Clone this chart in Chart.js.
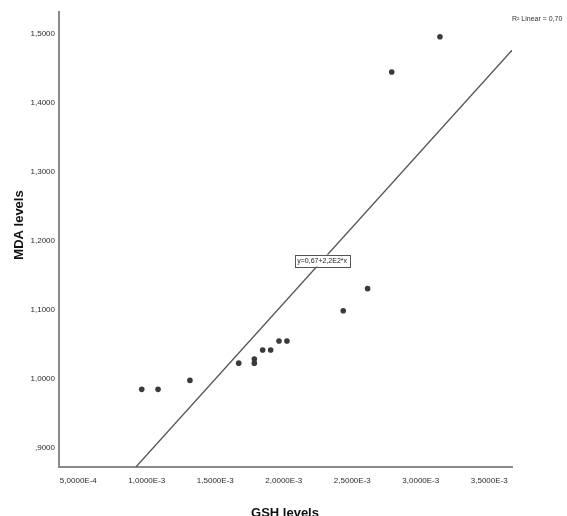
<!DOCTYPE html>
<html>
<head>
<meta charset="utf-8">
<script src="https://cdn.jsdelivr.net/npm/chart.js@4/dist/chart.umd.min.js"></script>
<style>
  html, body { margin: 0; padding: 0; background: #ffffff; }
  #wrap { width: 567px; height: 516px; position: relative; }
</style>
</head>
<body>
<div id="wrap"><canvas id="c" width="567" height="516"></canvas></div>
<script>
// GSH (x) and MDA (y) levels per subject
const gshLevels = [0.000963, 0.001082, 0.001315, 0.001671, 0.001785, 0.001785, 0.001846,
                   0.001904, 0.001965, 0.002023, 0.002434, 0.002612, 0.002788, 0.003140];
const mdaLevels = [0.985, 0.985, 0.998, 1.023, 1.029, 1.023, 1.042,
                   1.042, 1.055, 1.055, 1.099, 1.131, 1.445, 1.496];

// Linear fit y = a + b*x
const fitIntercept = 0.67;
const fitSlope = 220;
const fitLabel = 'y=0,67+2,2E2*x';
const fitLabelX = 0.00228;
const rSquaredLabel = 'R\u00B2 Linear = 0,70';

// Axis ranges and tick steps
const xRange = [0.000359, 0.003666];
const yRange = [0.8725, 1.5319];
const xStep = 0.0005;
const yStep = 0.1;

const xTitle = 'GSH levels';
const yTitle = 'MDA levels';

const tickFont = "'Liberation Sans Narrow', 'Liberation Sans', Arial, sans-serif";

function fmtY(v) {
  let s = v.toFixed(4).replace('.', ',');
  if (s.startsWith('0,')) s = s.slice(1);
  return s;
}
function fmtX(v) {
  const s = v.toExponential(4).replace('.', ',').replace('e', 'E');
  return s.replace('E-0', 'E-');
}

const points = gshLevels.map((x, i) => ({ x: x, y: mdaLevels[i] }));
const xFitStart = (yRange[0] - fitIntercept) / fitSlope;
const fitLine = [
  { x: xFitStart, y: fitIntercept + fitSlope * xFitStart },
  { x: xRange[1], y: fitIntercept + fitSlope * xRange[1] }
];

const annotations = {
  id: 'annotations',
  afterDatasetsDraw(chart) {
    const ctx = chart.ctx;
    const xs = chart.scales.x, ys = chart.scales.y;
    ctx.save();
    // equation box centred on the fit line
    const px = xs.getPixelForValue(fitLabelX);
    const py = ys.getPixelForValue(fitIntercept + fitSlope * fitLabelX);
    ctx.font = "7px " + tickFont;
    const w = ctx.measureText(fitLabel).width + 5;
    const h = 12;
    ctx.fillStyle = '#ffffff';
    ctx.fillRect(px - w / 2, py - h / 2, w, h);
    ctx.strokeStyle = '#555555';
    ctx.lineWidth = 1;
    ctx.strokeRect(Math.round(px - w / 2) + 0.5, Math.round(py - h / 2) + 0.5, Math.round(w), h);
    ctx.fillStyle = '#222222';
    ctx.textAlign = 'center';
    ctx.textBaseline = 'middle';
    ctx.fillText(fitLabel, px, py + 0.5);

    // R squared note, top right
    ctx.font = "7px " + tickFont;
    ctx.textAlign = 'left';
    ctx.fillStyle = '#333333';
    ctx.fillText(rSquaredLabel, 512, 19);

    // axis titles
    ctx.fillStyle = '#111111';
    ctx.font = "bold 13px 'Liberation Sans', Arial, sans-serif";
    ctx.textAlign = 'center';
    ctx.fillText(xTitle, 285, 513);
    ctx.translate(19, 225);
    ctx.rotate(-Math.PI / 2);
    ctx.fillText(yTitle, 0, 0);
    ctx.restore();
  }
};

new Chart(document.getElementById('c'), {
  type: 'scatter',
  data: {
    datasets: [
      {
        type: 'line',
        data: fitLine,
        borderColor: '#555555',
        borderWidth: 1.3,
        pointRadius: 0,
        fill: false,
        order: 2
      },
      {
        data: points,
        backgroundColor: '#3a3a3a',
        borderColor: '#3a3a3a',
        borderWidth: 0,
        pointRadius: 2.8,
        pointHoverRadius: 2.8,
        order: 1
      }
    ]
  },
  options: {
    responsive: false,
    animation: false,
    events: [],
    layout: { padding: { left: 0, top: 12, right: 55, bottom: 0 } },
    plugins: { legend: { display: false }, tooltip: { enabled: false } },
    scales: {
      x: {
        type: 'linear',
        min: xRange[0],
        max: xRange[1],
        afterFit(s) { s.height = 49; },
        grid: { display: false, drawTicks: false },
        border: { display: true, color: '#8a8a8a', width: 2 },
        ticks: {
          stepSize: xStep,
          includeBounds: false,
          autoSkip: false,
          maxRotation: 0,
          padding: 9,
          color: '#2a2a2a',
          font: { family: tickFont, size: 8 },
          callback: (v) => fmtX(v)
        }
      },
      y: {
        type: 'linear',
        min: yRange[0],
        max: yRange[1],
        afterFit(s) { s.width = 59; },
        grid: { display: false, drawTicks: false },
        border: { display: true, color: '#8a8a8a', width: 2 },
        ticks: {
          stepSize: yStep,
          includeBounds: false,
          autoSkip: false,
          padding: 4,
          color: '#2a2a2a',
          font: { family: tickFont, size: 8 },
          callback: (v) => fmtY(v)
        }
      }
    }
  },
  plugins: [annotations]
});
</script>
</body>
</html>
